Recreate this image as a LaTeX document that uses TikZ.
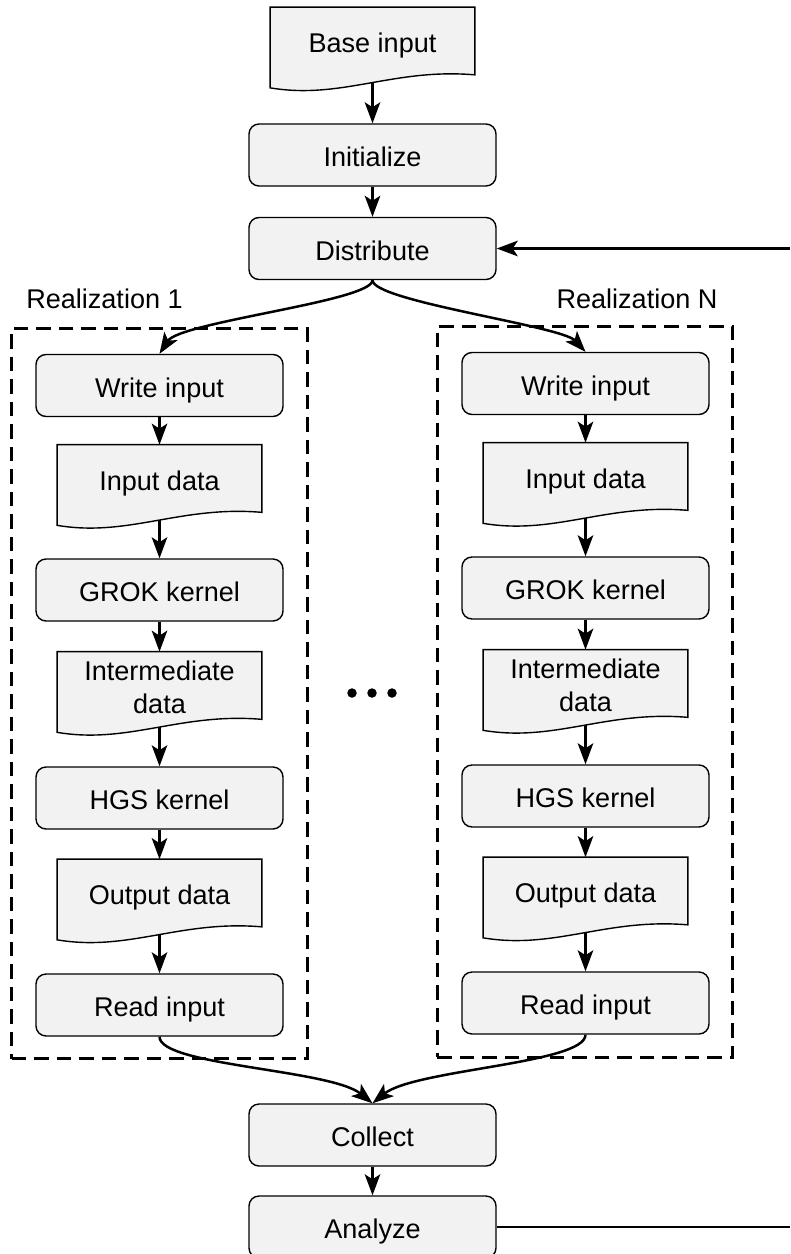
\documentclass[tikz,border=0pt]{standalone}
\usepackage{fontspec}
\setmainfont{Liberation Sans}
\usetikzlibrary{arrows.meta,backgrounds}
\definecolor{boxfill}{RGB}{242,242,242}

\begin{document}
\begin{tikzpicture}[x=0.2mm, y=-0.2mm,
    font=\fontsize{15.4pt}{18.8pt}\selectfont,
    stepbox/.style={draw, fill=boxfill, line width=0.28mm, rounded corners=2mm,
        minimum width=49.4mm, minimum height=12.4mm, inner sep=0pt,
        text height=13.3pt, text depth=0pt},
    docbox/.style={minimum width=40.8mm, minimum height=13.4mm, inner sep=0pt,
        text height=13.3pt, text depth=0pt, align=center},
    docline/.style={draw, fill=boxfill, line width=0.28mm},
    realbox/.style={draw, dash pattern=on 2.9mm off 1.6mm, line width=0.55mm,
        minimum width=59.1mm, minimum height=146.1mm, inner sep=0pt},
    flow/.style={line width=0.5mm, -{Stealth[length=4.2mm, width=3.1mm, inset=1mm]}},
]
\useasboundingbox (0,0) rectangle (790,1254);

% Main column
\node[docbox] (base) at (372.5,41) {Base input};
\node[stepbox] (init) at (372.5,155) {Initialize};
\node[stepbox] (dist) at (372.5,248.5) {Distribute};

% Realization 1
\node[realbox] (real1) at (159.5,693.5) {};
\node[anchor=base] (lab1) at (104.5,308) {Realization 1};
\node[stepbox] (wr1) at (159.5,385.5) {Write input};
\node[docbox] (in1) at (159.5,478.5) {Input data};
\node[stepbox] (gr1) at (159.5,590) {GROK kernel};
\node[docbox, text height=32.1pt] (im1) at (159.5,685.5) {Intermediate\\data};
\node[stepbox] (hg1) at (159.5,798) {HGS kernel};
\node[docbox] (out1) at (159.5,893) {Output data};
\node[stepbox] (rd1) at (159.5,1005) {Read input};

% Realization N
\node[realbox] (realN) at (585,692) {};
\node[anchor=base] (labN) at (637,308.5) {Realization N};
\node[stepbox] (wrN) at (585.5,383.5) {Write input};
\node[docbox] (inN) at (585.5,476.5) {Input data};
\node[stepbox] (grN) at (585.5,588) {GROK kernel};
\node[docbox, text height=32.1pt] (imN) at (585.5,683.5) {Intermediate\\data};
\node[stepbox] (hgN) at (585.5,796) {HGS kernel};
\node[docbox] (outN) at (585.5,891) {Output data};
\node[stepbox] (rdN) at (585.5,1003) {Read input};

% dots between the realizations
\foreach \dx in {352,372,392}
    \fill (\dx,693) circle (0.95mm);

% Collect and analyze
\node[stepbox] (col) at (372.5,1135) {Collect};
\node[stepbox] (ana) at (372.5,1227) {Analyze};

\coordinate (loopin) at (790,248.5);
\coordinate (loopout) at (790,1227);

\begin{scope}[on background layer]
% Arrows
\draw[flow] (base) -- (init);
\draw[flow] (init) -- (dist);
\draw[flow] (loopin) -- (dist);
\draw[flow] (dist.south) .. controls +(0,21) and +(20.5,-32) .. (wr1.north);
\draw[flow] (dist.south) .. controls +(0,21) and +(-24,-26) .. (wrN.north);
\draw[flow] (wr1) -- (in1);
\draw[flow] (in1) -- (gr1);
\draw[flow] (gr1) -- (im1);
\draw[flow] (im1) -- (hg1);
\draw[flow] (hg1) -- (out1);
\draw[flow] (out1) -- (rd1);
\draw[flow] (wrN) -- (inN);
\draw[flow] (inN) -- (grN);
\draw[flow] (grN) -- (imN);
\draw[flow] (imN) -- (hgN);
\draw[flow] (hgN) -- (outN);
\draw[flow] (outN) -- (rdN);
\draw[flow] (rd1.south) .. controls +(0,29) and +(-42,-34) .. (col.north);
\draw[flow] (rdN.south) .. controls +(0,29) and +(42,-34) .. (col.north);
\draw[flow] (col) -- (ana);
\draw[line width=0.5mm] (ana) -- (loopout);

% Document outlines
\foreach \n in {base,in1,im1,out1,inN,imN,outN}
    \draw[docline] (\n.north west) -- (\n.north east) -- (\n.south east)
        .. controls +(-81.6,-7) and +(71.4,12) .. ([yshift=-2.6mm]\n.south west) -- cycle;
\end{scope}

\end{tikzpicture}
\end{document}
